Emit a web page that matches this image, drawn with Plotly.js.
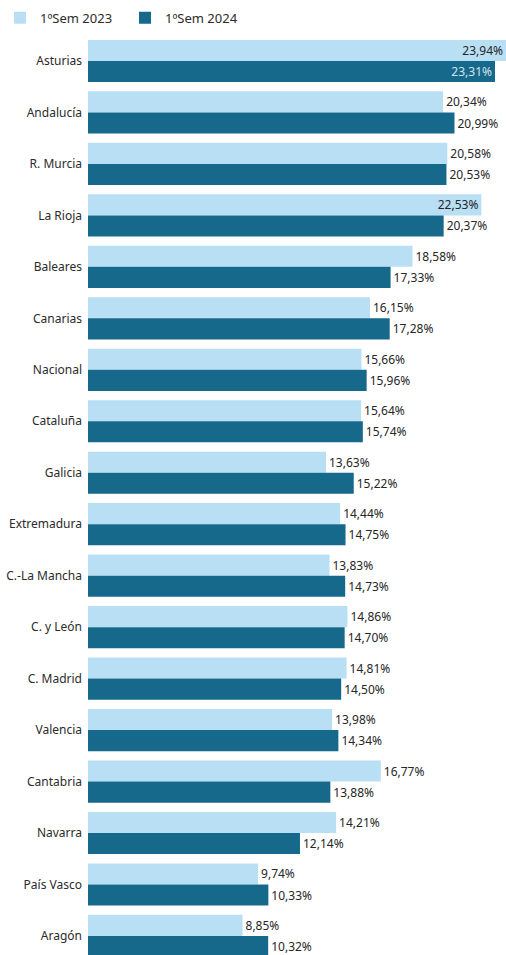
<!DOCTYPE html>
<html>
<head>
<meta charset="utf-8">
<script src="https://cdn.plot.ly/plotly-3.0.1.min.js"></script>
<style>
html,body{margin:0;padding:0;background:#fff;}
#chart{width:506px;height:955px;}
</style>
</head>
<body>
<div id="chart"></div>
<script>
const regions = ["Asturias","Andalucía","R. Murcia","La Rioja","Baleares","Canarias","Nacional","Cataluña","Galicia","Extremadura","C.-La Mancha","C. y León","C. Madrid","Valencia","Cantabria","Navarra","País Vasco","Aragón"];
const sem2023 = [23.94,20.34,20.58,22.53,18.58,16.15,15.66,15.64,13.63,14.44,13.83,14.86,14.81,13.98,16.77,14.21,9.74,8.85];
const sem2024 = [23.31,20.99,20.53,20.37,17.33,17.28,15.96,15.74,15.22,14.75,14.73,14.70,14.50,14.34,13.88,12.14,10.33,10.32];
const seriesNames = ["1ºSem 2023","1ºSem 2024"];
const insideThreshold = 22;

const fmt = v => v.toFixed(2).replace('.', ',') + '%';
const pos = arr => arr.map(v => v > insideThreshold ? 'inside' : 'outside');

const LIGHT = '#b9dff5', DARK = '#17698b';
const FONT = '"Noto Sans", "Open Sans", sans-serif';

const t1 = {
  type:'bar', orientation:'h', name:seriesNames[0],
  y:regions, x:sem2023,
  marker:{color:LIGHT},
  text:sem2023.map(fmt), textposition:pos(sem2023),
  insidetextanchor:'end', constraintext:'none',
  textfont:{family:FONT, size:12, color:'#262626'},
  cliponaxis:false, hoverinfo:'none'
};
const t2 = {
  type:'bar', orientation:'h', name:seriesNames[1],
  y:regions, x:sem2024,
  marker:{color:DARK},
  text:sem2024.map(fmt), textposition:pos(sem2024),
  insidetextanchor:'end', constraintext:'none',
  textfont:{family:FONT, size:12, color:sem2024.map(v => v > insideThreshold ? '#cfe3ee' : '#262626')},
  cliponaxis:false, hoverinfo:'none'
};

const layout = {
  width:506, height:955,
  margin:{l:88, r:0, t:35, b:0, pad:0},
  paper_bgcolor:'#fff', plot_bgcolor:'#fff',
  barmode:'group', bargap:0.18, bargroupgap:0,
  font:{family:FONT, size:12, color:'#2b2b2b'},
  showlegend:true,
  legend:{orientation:'h', xref:'container', yref:'container', x:0.0, y:0.997, xanchor:'left', yanchor:'top',
          font:{family:FONT, size:13, color:'#2b2b2b'}, traceorder:'normal', itemwidth:30,
          entrywidth:80, entrywidthmode:'pixels'},
  xaxis:{range:[0,23.94], visible:false, fixedrange:true},
  yaxis:{type:'category', range:[17.37,-0.505], showgrid:false, zeroline:false, showline:false,
         ticks:'', ticklabelstandoff:5, tickfont:{family:FONT, size:12, color:'#2b2b2b'}, fixedrange:true},
  uniformtext:{mode:false}
};

Plotly.newPlot('chart',[t1,t2],layout,{displayModeBar:false, staticPlot:true});
</script>
</body>
</html>
